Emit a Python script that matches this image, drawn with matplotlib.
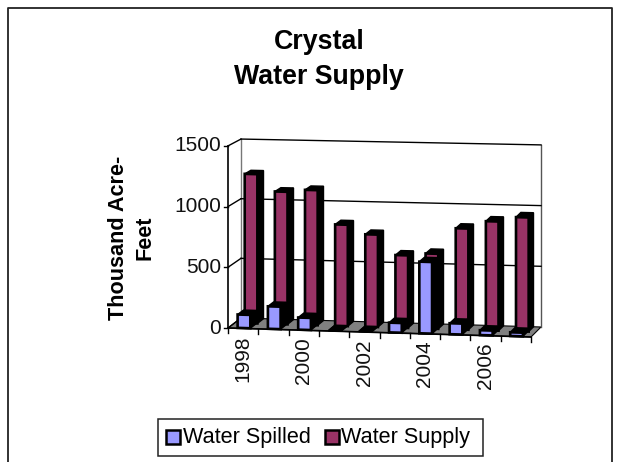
import matplotlib
matplotlib.use("Agg")
import matplotlib.pyplot as plt
from matplotlib.patches import Polygon, Rectangle

years = [1998, 1999, 2000, 2001, 2002, 2003, 2004, 2005, 2006, 2007]
spilled = [110, 185, 100, 0, 0, 80, 590, 90, 40, 30]
supply = [1240, 1100, 1120, 840, 765, 600, 620, 835, 900, 940]
y_ticks = [0, 500, 1000, 1500]
title_lines = ["Crystal", "Water Supply"]
y_label = ["Thousand Acre-", "Feet"]
SPILL_C = "#9999FF"
SUPPLY_C = "#993366"
N = len(years)

plt.rcParams["font.family"] = ["Liberation Sans", "DejaVu Sans"]
W, H = 621, 462
fig = plt.figure(figsize=(W / 100, H / 100), dpi=100)
ax = fig.add_axes([0, 0, 1, 1])
ax.set_xlim(0, W)
ax.set_ylim(H, 0)
ax.axis("off")


def P(u, d, v=0.0):
    """Oblique projection: category u, depth d (0 front, 1 back), value v."""
    t = u / N
    x = (1 - d) * (228 + 303 * t) + d * (241 + 300 * t)
    y = (1 - d) * (328 + 9 * t) + d * (318 + 9 * t)
    s = 0.1214 - 0.0021 * d * (1 - t)
    return (x, y - s * v)


def poly(pts, fc, ec="black", lw=1.0, z=2):
    ax.add_patch(Polygon(pts, closed=True, fc=fc, ec=ec, lw=lw, zorder=z,
                         joinstyle="miter"))


# frame of the chart object (no bottom edge in view)
ax.plot([7.5, 7.5, 612, 612], [H, 8, 8, H], color="#222222", lw=1.3, zorder=1)

# floor
poly([P(0, 0), P(N, 0), P(N, 1), P(0, 1)], "#808080", lw=0.8, z=1)

# back wall and gridlines
top = max(y_ticks)
ax.plot(*zip(P(0, 1), P(0, 1, top)), color="#777777", lw=1, zorder=1)
ax.plot(*zip(P(N, 1), P(N, 1, top)), color="#555555", lw=1, zorder=1)
for v in y_ticks[1:]:
    ax.plot(*zip(P(0, 1, v), P(N, 1, v)), color="black", lw=1, zorder=1)
for v in y_ticks:
    ax.plot(*zip(P(0, 0, v), P(0, 1, v)), color="black", lw=1, zorder=1)
    fx, fy = P(0, 0, v)
    ax.plot([fx - 4, fx], [fy, fy], color="black", lw=1, zorder=3)
    ax.text(fx - 7, fy, str(v), ha="right", va="center", fontsize=15,
            color="#111111", zorder=5)

# front axes
ax.plot(*zip(P(0, 0), P(0, 0, top)), color="black", lw=1.2, zorder=3)
ax.plot(*zip(P(0, 0), P(N, 0)), color="black", lw=1.2, zorder=3)
for i in range(N + 1):
    x, y = P(i, 0)
    ax.plot([x, x], [y, y + 5], color="black", lw=1, zorder=3)
for i in range(0, N, 2):
    x, y = P(i + 0.5, 0)
    ax.text(x, y + 7, str(years[i]), rotation=90, ha="center", va="top",
            fontsize=15, color="#111111", zorder=5)


def bar(i, value, d0, d1, color, z, off):
    u0, u1 = i + off, i + off + 0.42
    poly([P(u1, d0), P(u1, d1), P(u1, d1, value), P(u1, d0, value)], "black", z=z)
    poly([P(u0, d0, value), P(u1, d0, value), P(u1, d1, value), P(u0, d1, value)],
         "black", z=z)
    if value >= 15:
        poly([P(u0, d0), P(u1, d0), P(u1, d0, value), P(u0, d0, value)],
             color, lw=1.9, z=z + 0.1)
    else:
        poly([P(u0, d0), P(u1, d0), P(u1, d1), P(u0, d1)], "black", z=z + 0.1)


for i, v in enumerate(supply):
    bar(i, v, 0.52, 1.0, SUPPLY_C, 2 + i * 0.01, 0.33)
for i, v in enumerate(spilled):
    bar(i, v, 0.04, 0.50, SPILL_C, 3 + i * 0.01, 0.30)

# title and axis label
for line, yy in zip(title_lines, (42, 77)):
    ax.text(319, yy, line, ha="center", va="center", fontsize=19.3,
            fontweight="bold", color="black", zorder=5)
for line, xx in zip(y_label, (118, 145)):
    ax.text(xx, 238, line, rotation=90, ha="center", va="center", fontsize=15.6,
            fontweight="bold", color="black", zorder=5)

# legend
ax.add_patch(Rectangle((157.5, 418.5), 325, 37, fc="white", ec="#222222", lw=1.1, zorder=4))
ax.add_patch(Rectangle((165.5, 429.5), 14, 14, fc=SPILL_C, ec="black", lw=1.8, zorder=5))
ax.text(183, 437, "Water Spilled", ha="left", va="center", fontsize=15.6, zorder=5)
ax.add_patch(Rectangle((324.5, 429.5), 14, 14, fc=SUPPLY_C, ec="black", lw=1.8, zorder=5))
ax.text(341, 437, "Water Supply", ha="left", va="center", fontsize=15.6, zorder=5)

fig.savefig("out.png", dpi=100)
